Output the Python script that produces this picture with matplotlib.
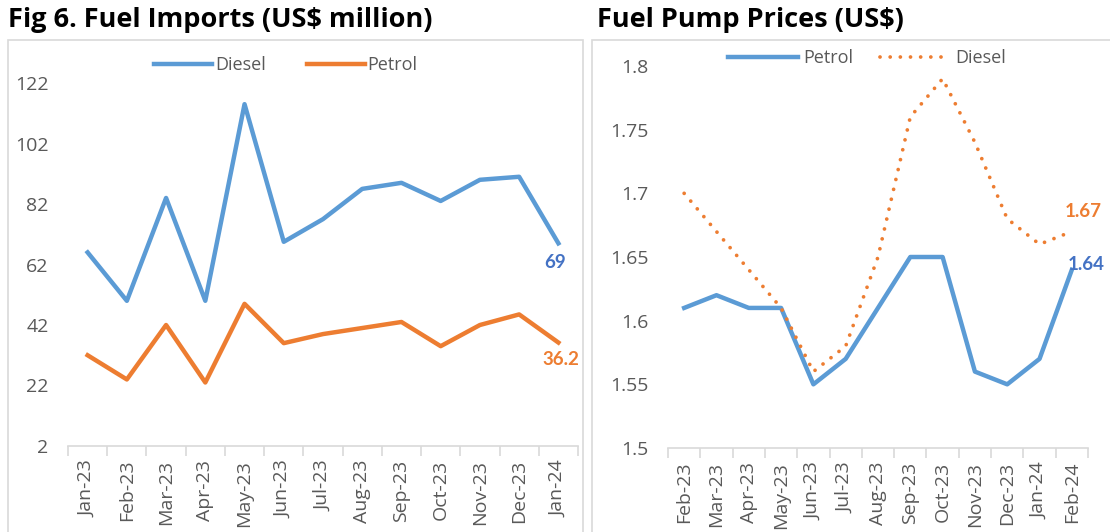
import matplotlib
matplotlib.use("Agg")
import matplotlib.pyplot as plt
from matplotlib.patches import Rectangle

plt.rcParams['font.family'] = ['Lato', 'DejaVu Sans']

# ---- data ----
imp_months = ["Jan-23", "Feb-23", "Mar-23", "Apr-23", "May-23", "Jun-23", "Jul-23",
              "Aug-23", "Sep-23", "Oct-23", "Nov-23", "Dec-23", "Jan-24"]
imp_diesel = [66, 50, 84, 50, 115, 69.5, 77, 87, 89, 83, 90, 91, 69]
imp_petrol = [32, 24, 42, 23, 49, 36, 39, 41, 43, 35, 42, 45.5, 36.2]
imp_yticks = [2, 22, 42, 62, 82, 102, 122]

price_months = ["Feb-23", "Mar-23", "Apr-23", "May-23", "Jun-23", "Jul-23", "Aug-23",
                "Sep-23", "Oct-23", "Nov-23", "Dec-23", "Jan-24", "Feb-24"]
price_petrol = [1.61, 1.62, 1.61, 1.61, 1.55, 1.57, 1.61, 1.65, 1.65, 1.56, 1.55, 1.57, 1.64]
price_diesel = [1.70, 1.67, 1.64, 1.61, 1.56, 1.58, 1.65, 1.76, 1.79, 1.74, 1.68, 1.66, 1.67]
price_yticks = [1.5, 1.55, 1.6, 1.65, 1.7, 1.75, 1.8]
price_ylabels = ["1.5", "1.55", "1.6", "1.65", "1.7", "1.75", "1.8"]

BLUE = "#5B9BD5"
ORANGE = "#ED7D31"
LBLUE = "#4472C4"
GRAY = "#595959"
AXC = "#D9D9D9"
OS = ['Open Sans', 'DejaVu Sans']

W, H = 1110, 532
fig = plt.figure(figsize=(W / 100, H / 100), dpi=100)

def px(x0, y0, x1, y1):
    return [x0 / W, 1 - y1 / H, (x1 - x0) / W, (y1 - y0) / H]

# panel borders
fig.patches.append(Rectangle((8 / W, -0.01), (583 - 8) / W, 1 - 40 / H + 0.01,
                             transform=fig.transFigure, fill=False, ec=AXC, lw=1.2))
fig.patches.append(Rectangle((592 / W, -0.01), (1115 - 592) / W, 1 - 40 / H + 0.01,
                             transform=fig.transFigure, fill=False, ec=AXC, lw=1.2))

fig.text(8 / W, 1 - 20 / H, "Fig 6. Fuel Imports (US$ million)", fontsize=19.5,
         fontweight="bold", va="center", ha="left", color="black", family=OS)
fig.text(597 / W, 1 - 20 / H, "Fuel Pump Prices (US$)", fontsize=19.5,
         fontweight="bold", va="center", ha="left", color="black", family=OS)


def style(ax, labels, ymin, ymax, yticks, ylabels):
    n = len(labels)
    ax.set_xlim(-0.5, n - 0.5)
    ax.set_ylim(ymin, ymax)
    for s in ["top", "right", "left"]:
        ax.spines[s].set_visible(False)
    ax.spines["bottom"].set_color(AXC)
    ax.spines["bottom"].set_linewidth(1.2)
    ax.set_xticks([i - 0.5 for i in range(n + 1)])
    ax.set_xticklabels([])
    ax.tick_params(axis="x", which="major", length=7, color=AXC, width=1.2)
    ax.set_xticks(range(n), minor=True)
    ax.set_xticklabels(labels, minor=True, rotation=90, fontsize=14, color=GRAY, family=OS)
    ax.tick_params(axis="x", which="minor", length=0, pad=10)
    ax.set_yticks(yticks)
    ax.set_yticklabels(ylabels, fontsize=14, color=GRAY, family=OS)
    ax.tick_params(axis="y", length=0, pad=14)
    ax.patch.set_alpha(0)


# ---- left chart ----
ax1 = fig.add_axes(px(68, 83, 578, 446))
x1 = range(len(imp_months))
ax1.plot(x1, imp_diesel, color=BLUE, lw=3.2, solid_joinstyle="round", label="Diesel")
ax1.plot(x1, imp_petrol, color=ORANGE, lw=3.2, solid_joinstyle="round", label="Petrol")
style(ax1, imp_months, 2, 122, imp_yticks, [str(v) for v in imp_yticks])
ax1.annotate(f"{imp_diesel[-1]:g}", (len(imp_months) - 1, imp_diesel[-1]),
             xytext=(-2, -8), textcoords="offset points", ha="center", va="top",
             color=LBLUE, fontsize=13.5, fontweight="bold")
ax1.annotate(f"{imp_petrol[-1]:g}", (len(imp_months) - 1, imp_petrol[-1]),
             xytext=(2, -6), textcoords="offset points", ha="center", va="top",
             color=ORANGE, fontsize=13.5, fontweight="bold")
ax1.legend(loc="center", bbox_to_anchor=(286 / W, 1 - 65 / H), bbox_transform=fig.transFigure,
           ncol=2, frameon=False, prop={'family': OS, 'size': 13}, handlelength=3.2,
           handletextpad=0.15, columnspacing=2.3, labelcolor=GRAY)

# ---- right chart ----
ax2 = fig.add_axes(px(668, 66, 1088, 448))
x2 = range(len(price_months))
ax2.plot(x2, price_petrol, color=BLUE, lw=3.2, solid_joinstyle="round", label="Petrol")
ax2.plot(x2, price_diesel, color=ORANGE, lw=2.7, linestyle=(0, (0.01, 2.7)),
         dash_capstyle="round", label="Diesel")
style(ax2, price_months, 1.5, 1.8, price_yticks, price_ylabels)
ax2.annotate(f"{price_diesel[-1]:.2f}", (len(price_months) - 1, price_diesel[-1]),
             xytext=(8, 8), textcoords="offset points", ha="center", va="bottom",
             color=ORANGE, fontsize=13.5, fontweight="bold")
ax2.annotate(f"{price_petrol[-1]:.2f}", (len(price_months) - 1, price_petrol[-1]),
             xytext=(10, 4), textcoords="offset points", ha="center", va="center",
             color=LBLUE, fontsize=13.5, fontweight="bold")
ax2.legend(loc="center", bbox_to_anchor=(867 / W, 1 - 58 / H), bbox_transform=fig.transFigure,
           ncol=2, frameon=False, prop={'family': OS, 'size': 13}, handlelength=3.9,
           handletextpad=0.28, columnspacing=1.5, labelcolor=GRAY)

fig.savefig("out.png", dpi=100)
